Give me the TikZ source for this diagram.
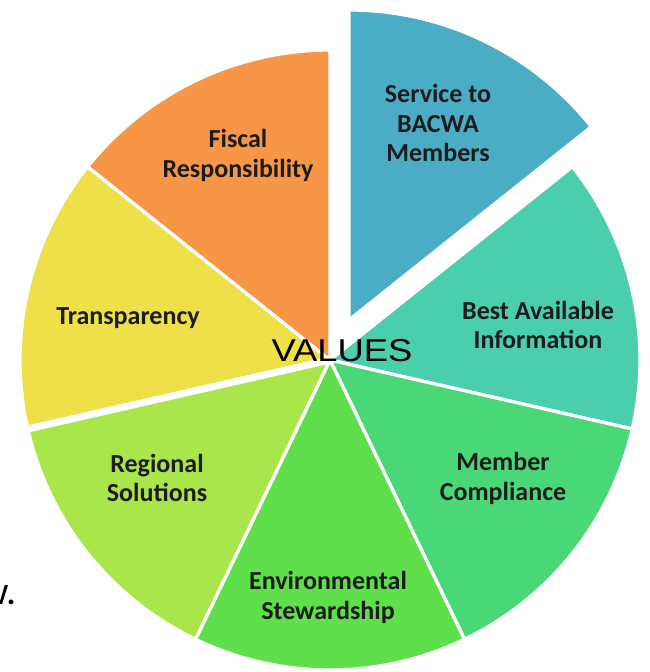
\documentclass[tikz,border=0pt]{standalone}
\usepackage{fontspec}
\setmainfont{Carlito}
\newfontfamily\valuesfont{Liberation Sans}

\definecolor{Service}{HTML}{4BACC6}
\definecolor{BestInfo}{HTML}{4BCEAC}
\definecolor{Compliance}{HTML}{4AD778}
\definecolor{Stewardship}{HTML}{5EDF4B}
\definecolor{Regional}{HTML}{A9E64B}
\definecolor{Transparency}{HTML}{EFDF48}
\definecolor{Fiscal}{HTML}{F79646}
\definecolor{Label}{HTML}{1C1C1C}

\tikzset{
  slice/.style={draw=white, line width=2.8pt, line join=round},
  valuelabel/.style={font=\bfseries\fontsize{22.2}{25.5}\selectfont, text=Label, align=center, inner sep=0pt},
}

\begin{document}
\begin{tikzpicture}[x=0.03cm, y=0.03cm]

  \useasboundingbox (0,0) rectangle (650,672);

  %%%%%%%%%%%%%%%% Points pour travailler %%%%%%%%%%%%%%%%
  \coordinate (O) at (330,312);
  \coordinate (S) at (349,352);

  %%%%%%%%%%%%%%%% SLICES %%%%%%%%%%%%%%%%
  \draw [slice, fill=BestInfo] (O) -- ++(38.57:310) arc[start angle=38.57, end angle=-12.86, radius=310] -- cycle;
  \draw [slice, fill=Compliance] (O) -- ++(-12.86:310) arc[start angle=-12.86, end angle=-64.29, radius=310] -- cycle;
  \draw [slice, fill=Stewardship] (O) -- ++(-64.29:310) arc[start angle=-64.29, end angle=-115.71, radius=310] -- cycle;
  \draw [slice, fill=Regional] (O) -- ++(-115.71:310) arc[start angle=-115.71, end angle=-167.14, radius=310] -- cycle;
  \draw [slice, fill=Transparency] (O) -- ++(192.86:310) arc[start angle=192.86, end angle=141.43, radius=310] -- cycle;
  \draw [slice, fill=Fiscal] (O) -- ++(141.43:310) arc[start angle=141.43, end angle=90, radius=310] -- cycle;

  % wider gap under Transparency
  \draw [white, line width=6pt] (O) -- ++(192.86:318);

  % Exploded slice
  \draw [slice, fill=Service] (S) -- ++(90:310) arc[start angle=90, end angle=38.57, radius=310] -- cycle;

  %%%%%%%%%%%%%%%% LABELS %%%%%%%%%%%%%%%%
  \node [valuelabel] (service) at (438,549) {Service to\\BACWA\\Members};
  \node [valuelabel] (bestinfo) at (538,347) {Best Available\\Information};
  \node [valuelabel] (compliance) at (503,194) {Member\\Compliance};
  \node [valuelabel] (stewardship) at (328,75) {Environmental\\Stewardship};
  \node [valuelabel] (regional) at (157,194) {Regional\\Solutions};
  \node [valuelabel] (transparency) at (128,354) {Transparency};
  \node [valuelabel] (fiscal) at (238,517) {Fiscal\\Responsibility};

  \node [font=\valuesfont\fontsize{27}{30}\selectfont, inner sep=0pt, xscale=1.15] (values) at (342,321) {VALUES};

  % cut text at the left border
  \node [font=\fontsize{34}{36}\selectfont, anchor=base east, inner sep=0pt] (cut) at (17,67) {w.};

\end{tikzpicture}
\end{document}
